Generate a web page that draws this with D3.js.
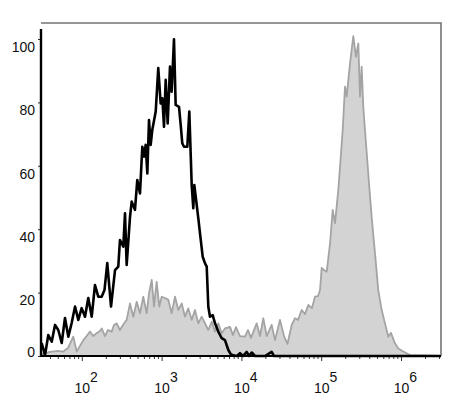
<!DOCTYPE html>
<html lang="en">
<head>
    <meta charset="UTF-8">
    <title>Histogram</title>
    <style>
        body {
            margin: 0;
            background: #fff;
        }
        text {
            font-family: "Liberation Sans", Arial, sans-serif;
        }
    </style>
</head>
<body>
<div id="chart"></div>
<script src="https://d3js.org/d3.v7.min.js"></script>
<script>
    // black open histogram (control): position in log10 units, count in % of max
    const blackLog = [1.491, 1.533, 1.574, 1.617, 1.658, 1.699, 1.742, 1.783, 1.825, 1.867, 1.909, 1.950,
        1.992, 2.034, 2.075, 2.118, 2.159, 2.200, 2.243, 2.278, 2.313, 2.360, 2.410, 2.451, 2.472, 2.514,
        2.535, 2.556, 2.598, 2.619, 2.660, 2.689, 2.723, 2.752, 2.773, 2.794, 2.815, 2.836, 2.857, 2.877,
        2.920, 2.952, 2.982, 3.003, 3.024, 3.045, 3.070, 3.099, 3.120, 3.149, 3.170, 3.212, 3.233, 3.253,
        3.274, 3.316, 3.341, 3.371, 3.391, 3.404, 3.454, 3.475, 3.509, 3.538, 3.559, 3.579, 3.600, 3.634,
        3.663, 3.704, 3.747, 3.788, 3.830, 3.860, 3.892, 3.939, 3.976, 4.014, 4.060, 4.089, 4.123, 4.164,
        4.290, 4.373, 4.402, 6.495];
    const blackCount = [4.1, 0.3, 6.6, 4.5, 9.8, 8.2, 4.1, 12.0, 6.1, 10.4, 15.6, 11.4,
        15.1, 12.4, 18.3, 12.4, 22.4, 18.7, 18.7, 20.8, 29.3, 15.6, 27.1, 28.2, 36.6, 34.5,
        45.0, 28.7, 43.9, 48.7, 46.1, 55.5, 51.3, 66.0, 62.9, 66.6, 57.6, 74.4, 66.6, 71.3,
        77.1, 90.8, 79.7, 81.3, 72.3, 87.1, 73.4, 91.3, 83.4, 99.9, 79.2, 78.6, 72.9, 67.1,
        66.0, 66.0, 77.1, 53.9, 46.6, 53.9, 43.4, 38.7, 31.3, 29.2, 28.2, 15.6, 12.4, 12.9,
        10.3, 7.7, 5.6, 5.0, 1.9, 0.6, 0.2, 0, 0.9, 0, 1.3, 0, 1.1, 0,
        0, 1.3, 0, 0];

    // gray filled histogram (stained sample)
    const grayLog = [1.489, 1.595, 1.695, 1.762, 1.821, 1.887, 1.930, 1.971, 2.013, 2.055, 2.096, 2.138,
        2.180, 2.222, 2.243, 2.284, 2.322, 2.368, 2.397, 2.431, 2.472, 2.510, 2.556, 2.598, 2.639, 2.682,
        2.723, 2.764, 2.807, 2.836, 2.870, 2.898, 2.932, 2.965, 2.995, 3.036, 3.078, 3.120, 3.162, 3.203,
        3.246, 3.287, 3.328, 3.371, 3.412, 3.454, 3.496, 3.538, 3.579, 3.622, 3.663, 3.704, 3.747, 3.788,
        3.851, 3.888, 3.926, 3.976, 4.038, 4.076, 4.114, 4.185, 4.227, 4.268, 4.311, 4.373, 4.415, 4.477,
        4.528, 4.571, 4.624, 4.665, 4.703, 4.749, 4.791, 4.832, 4.878, 4.916, 4.954, 4.979, 5.000, 5.029,
        5.063, 5.105, 5.138, 5.167, 5.208, 5.242, 5.263, 5.292, 5.313, 5.355, 5.396, 5.430, 5.459, 5.480,
        5.501, 5.521, 5.555, 5.596, 5.626, 5.668, 5.709, 5.752, 5.793, 5.835, 5.868, 5.918, 5.960, 6.023,
        6.106, 6.495];
    const grayCount = [0.6, 1.3, 1.6, 1.4, 2.5, 6.1, 1.4, 3.2, 5.0, 6.3, 7.7, 6.3,
        7.2, 7.9, 8.7, 6.3, 8.2, 7.7, 9.8, 10.3, 8.2, 9.8, 11.4, 16.6, 12.4, 17.1,
        13.5, 18.7, 13.5, 19.8, 24.0, 15.6, 23.4, 15.6, 18.7, 18.3, 17.7, 13.5, 18.7, 14.5,
        16.6, 12.4, 15.0, 11.4, 14.5, 10.3, 12.4, 10.3, 8.2, 10.8, 7.7, 10.3, 7.2, 8.7,
        9.2, 6.6, 9.1, 6.3, 6.1, 8.2, 5.7, 10.3, 6.3, 11.9, 6.3, 9.8, 5.0, 11.4,
        6.3, 3.8, 9.8, 11.9, 11.4, 14.5, 13.2, 16.1, 15.1, 18.7, 18.9, 20.8, 27.8, 27.1,
        26.6, 35.6, 46.1, 41.9, 52.4, 63.9, 71.3, 85.0, 81.8, 92.3, 100.9, 94.4, 98.6, 81.8,
        91.3, 78.6, 67.1, 53.4, 43.9, 32.4, 20.8, 14.5, 10.3, 6.1, 7.3, 4.0, 2.4, 1.4,
        0.3, 0];

    const yTicks = [0, 20, 40, 60, 80, 100];
    const xDecades = [2, 3, 4, 5, 6];

    // layout
    const margin = {top: 23, left: 41},
        width = 400,
        height = 333;

    const svg = d3.select("#chart")
        .append("svg")
        .attr("width", 462)
        .attr("height", 402);

    const g = svg.append("g")
        .attr("transform", `translate(${margin.left},${margin.top})`);

    const x = d3.scaleLog()
        .domain([Math.pow(10, 1.4825), Math.pow(10, 6.495)])
        .range([0, width]);

    const y = d3.scaleLinear()
        .domain([0, 105.05])
        .range([height, 0]);

    const blackData = blackLog.map((v, i) => ({x: Math.pow(10, v), y: blackCount[i]}));
    const grayData = grayLog.map((v, i) => ({x: Math.pow(10, v), y: grayCount[i]}));

    // gray filled area
    const area = d3.area()
        .x(d => x(d.x))
        .y0(y(0))
        .y1(d => y(d.y));

    const line = d3.line()
        .x(d => x(d.x))
        .y(d => y(d.y));

    g.append("path")
        .datum(grayData)
        .attr("d", area)
        .attr("fill", "#d3d3d3");

    g.append("path")
        .datum(grayData)
        .attr("d", line)
        .attr("fill", "none")
        .attr("stroke", "#a4a4a4")
        .attr("stroke-width", 1.8)
        .attr("stroke-linejoin", "round");

    // black open histogram
    g.append("path")
        .datum(blackData)
        .attr("d", line)
        .attr("fill", "none")
        .attr("stroke", "#000")
        .attr("stroke-width", 2.6)
        .attr("stroke-linejoin", "round");

    // frame: gray top & right
    g.append("path")
        .attr("d", `M0,0H${width}V${height}`)
        .attr("fill", "none")
        .attr("stroke", "#747474")
        .attr("stroke-width", 1.6);

    // y axis
    const yAxis = g.append("g")
        .call(d3.axisLeft(y).tickValues(yTicks).tickSize(3).tickPadding(3));
    yAxis.select(".domain").remove();
    yAxis.selectAll("line").attr("stroke", "#333");
    yAxis.selectAll("text")
        .attr("font-size", 14)
        .attr("fill", "#111")
        .attr("dy", d => d === 0 ? "0.05em" : "0.88em");

    // x axis with minor ticks
    const minorTicks = [];
    for (let e = 1; e <= 6; e++) {
        for (let m = 1; m <= 9; m++) {
            const v = m * Math.pow(10, e);
            if (v >= x.domain()[0] && v <= x.domain()[1]) minorTicks.push(v);
        }
    }
    g.append("g")
        .attr("transform", `translate(0,${height})`)
        .selectAll("line")
        .data(minorTicks)
        .join("line")
        .attr("x1", d => x(d))
        .attr("x2", d => x(d))
        .attr("y1", 0)
        .attr("y2", d => xDecades.some(e => Math.abs(Math.pow(10, e) - d) < 1e-6) ? 5 : 3)
        .attr("stroke", "#333")
        .attr("stroke-width", 1);

    const xLab = g.append("g")
        .attr("transform", `translate(0,${height})`)
        .selectAll("text")
        .data(xDecades)
        .join("text")
        .attr("x", d => x(Math.pow(10, d)) - 7.8)
        .attr("y", 36.5)
        .attr("font-size", 14)
        .attr("fill", "#111");
    xLab.append("tspan").text("10");
    xLab.append("tspan")
        .attr("dy", -11)
        .text(d => d);

    // black left and bottom axis lines
    g.append("line")
        .attr("x1", 0).attr("x2", 0)
        .attr("y1", 6).attr("y2", height + 1)
        .attr("stroke", "#000").attr("stroke-width", 2.4);
    g.append("line")
        .attr("x1", 0).attr("x2", width)
        .attr("y1", height).attr("y2", height)
        .attr("stroke", "#000").attr("stroke-width", 2.2);
</script>
</body>
</html>
